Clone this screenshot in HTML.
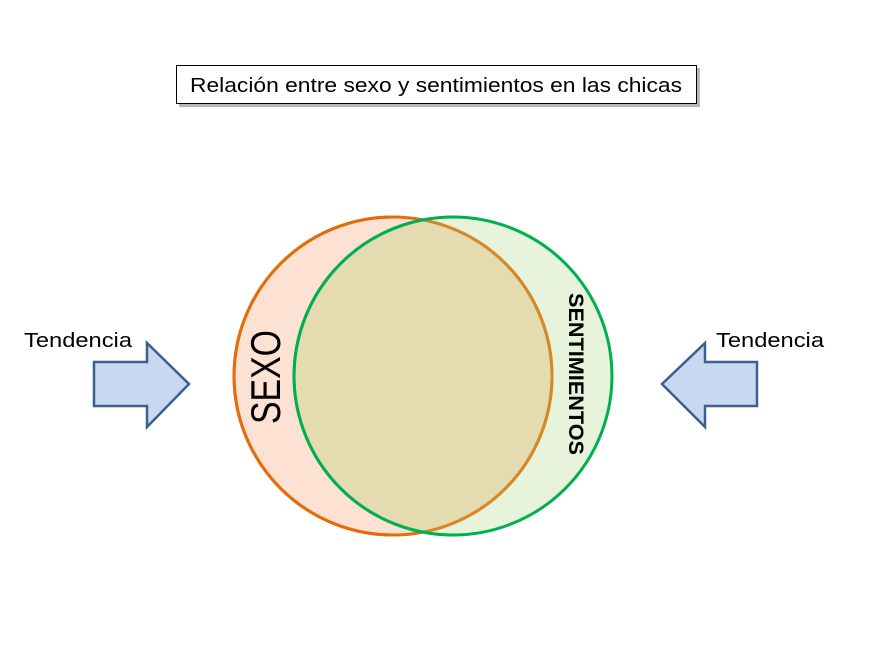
<!DOCTYPE html>
<html><head><meta charset="utf-8"><style>
html,body{margin:0;padding:0;background:#fff;}
svg{display:block;}
</style></head><body>
<svg width="874" height="668" viewBox="0 0 874 668" xmlns="http://www.w3.org/2000/svg" font-family="Liberation Sans, sans-serif">
<defs>
<clipPath id="oc"><circle cx="393" cy="376" r="159"/></clipPath>
</defs>
<rect x="179" y="68" width="521" height="39" fill="#888" opacity="0.6"/>
<rect x="176.5" y="65.5" width="520" height="38" fill="#fff" stroke="#000" stroke-width="1"/>
<text x="190" y="92" font-size="20" textLength="492" lengthAdjust="spacingAndGlyphs">Relación entre sexo y sentimientos en las chicas</text>

<circle cx="393" cy="376" r="159" fill="#fde1d3"/>
<circle cx="453" cy="376" r="159" fill="#e7f3da"/>
<circle cx="453" cy="376" r="159" fill="#e4dcb0" clip-path="url(#oc)"/>
<circle cx="393" cy="376" r="159" fill="none" stroke="#e46c0a" stroke-width="3"/>
<g clip-path="url(#oc)"><circle cx="453" cy="376" r="159" fill="none" stroke="#00b050" stroke-width="3"/></g>
<circle cx="393" cy="376" r="159" fill="none" stroke="#d4892a" stroke-width="3" clip-path="url(#gc)"/>
<clipPath id="gc"><circle cx="453" cy="376" r="159"/></clipPath>
<path d="M393 217 A159 159 0 0 0 393 535" fill="none" stroke="#e46c0a" stroke-width="3"/>
<path d="M453 217 A159 159 0 0 1 453 535" fill="none" stroke="#00b050" stroke-width="3"/>
<path d="M453 217 A159 159 0 0 0 453 535" fill="none" stroke="#00b050" stroke-width="3" clip-path="url(#oc2)"/>

<text transform="translate(280,424) rotate(-90)" font-size="42" textLength="94" lengthAdjust="spacingAndGlyphs">SEXO</text>
<text transform="translate(569,293) rotate(90)" font-size="21" font-weight="bold" textLength="162" lengthAdjust="spacingAndGlyphs">SENTIMIENTOS</text>

<text x="24" y="347" font-size="20" textLength="108" lengthAdjust="spacingAndGlyphs">Tendencia</text>
<text x="716" y="347" font-size="20" textLength="108" lengthAdjust="spacingAndGlyphs">Tendencia</text>

<path d="M94 362 L147 362 L147 343 L189 384 L147 427 L147 406 L94 406 Z" fill="#c6d9f1" stroke="#3c5f8e" stroke-width="2.5" stroke-linejoin="miter"/>
<path d="M757 362 L705 362 L705 343 L662 384 L705 427 L705 406 L757 406 Z" fill="#c6d9f1" stroke="#3c5f8e" stroke-width="2.5" stroke-linejoin="miter"/>
</svg>
</body></html>
